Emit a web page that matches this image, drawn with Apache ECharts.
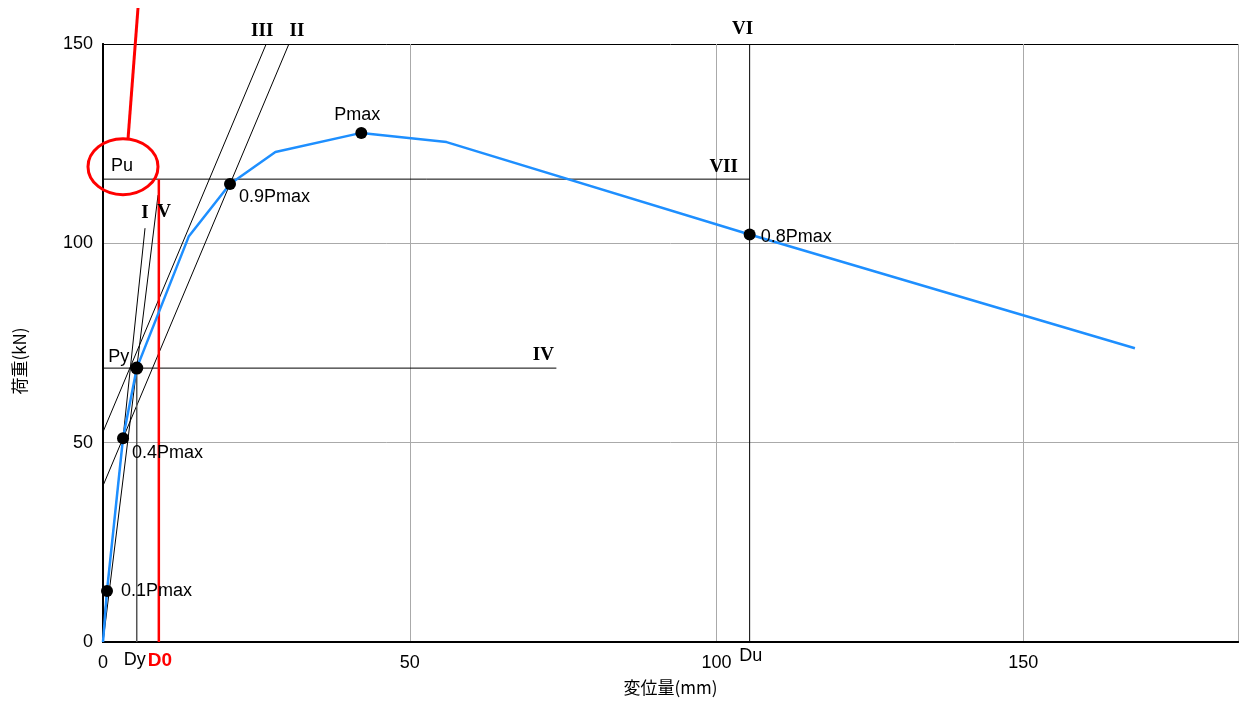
<!DOCTYPE html>
<html><head><meta charset="utf-8">
<script src="https://cdn.jsdelivr.net/npm/echarts@6/dist/echarts.min.js"></script>
<style>html,body{margin:0;padding:0;background:#fff}#c{width:1242px;height:705px}</style>
</head><body><div id="c"></div>
<script>
// Load-displacement curve (x: mm, y: kN)
const curveX = [0, 0.65, 3.26, 5.5, 14.0, 20.7, 28.1, 42.1, 56.0, 105.4, 168.2];
const curveY = [0, 12.8, 51.1, 68.7, 101.8, 114.9, 122.9, 127.7, 125.4, 102.2, 73.7];
// Characteristic points
const keyNames = ['0.1Pmax', '0.4Pmax', 'Py', '0.9Pmax', 'Pmax', '0.8Pmax'];
const keyX = [0.65, 3.26, 5.5, 20.7, 42.1, 105.4];
const keyY = [12.8, 51.1, 68.7, 114.9, 127.7, 102.2];
// Construction lines [x0,y0,x1,y1]
const lineI   = [0, 3.3, 6.85, 103.8];
const lineV   = [0, 0, 8.97, 112.1];
const lineII  = [0, 39.2, 30.3, 150];
const lineIII = [0, 52.7, 26.6, 150];
const lineIV  = [0, 68.7, 73.9, 68.7];
const lineVI  = [105.4, 0, 105.4, 150];
const lineVII = [0, 116.1, 105.4, 116.1];
const lineDy  = [5.5, 0, 5.5, 68.7];
const lineD0  = [9.1, 0, 9.1, 116.1];
const xTicks = [0, 50, 100, 150];
const yTicks = [0, 50, 100, 150];

const chart = echarts.init(document.getElementById('c'));
const FONT = '"Liberation Sans", "Noto Sans CJK JP", sans-serif';
const SERIF = '"Liberation Serif", "DejaVu Serif", serif';

function seg(name, L, color, width, startLabel, endLabel) {
  return {
    name: name, type: 'line', symbol: 'circle', symbolSize: 0.1, showSymbol: true,
    silent: true, clip: false, z: 3,
    itemStyle: {color: 'rgba(0,0,0,0)'},
    lineStyle: {color: color, width: width},
    data: [
      {value: [L[0], L[1]], label: startLabel || {show: false}},
      {value: [L[2], L[3]], label: endLabel || {show: false}}
    ]
  };
}
const roman = (t, dx, dy, pos) => ({show: true, formatter: t, position: pos || 'top',
  offset: [dx, dy], color: '#000', fontFamily: SERIF, fontSize: 19, fontWeight: 'bold'});

const keyLabelCfg = [
  {position: 'right', offset: [3, 0]},
  {position: 'right', offset: [-2, 15]},
  {position: 'left', offset: [4, -11]},
  {position: 'right', offset: [-2, 13]},
  {position: 'top', offset: [-4, 2]},
  {position: 'right', offset: [0, 2]}
];

const option = {
  animation: false,
  backgroundColor: '#fff',
  grid: {left: 103, right: 4, top: 44, bottom: 63},
  xAxis: [{
    type: 'value', min: 0, max: 185, interval: 50,
    name: '変位量(mm)', nameLocation: 'middle', nameGap: 37,
    nameTextStyle: {fontFamily: '"Noto Sans CJK JP", sans-serif', fontSize: 17, color: '#000'},
    axisLine: {show: true, onZero: false, lineStyle: {color: '#000', width: 2}},
    axisTick: {show: false},
    axisLabel: {fontFamily: FONT, fontSize: 18, color: '#000', margin: 12,
      formatter: v => xTicks.includes(v) ? String(v) : ''},
    splitLine: {show: true, lineStyle: {color: '#aaaaaa', width: 1}}
  }, {
    type: 'value', min: 0, max: 185, position: 'top',
    axisLine: {show: true, lineStyle: {color: '#000', width: 2}},
    axisTick: {show: false}, axisLabel: {show: false}, splitLine: {show: false}
  }],
  yAxis: [{
    type: 'value', min: 0, max: 150, interval: 50,
    name: '荷重(kN)', nameLocation: 'middle', nameGap: 75, nameRotate: 90,
    nameTextStyle: {fontFamily: '"Noto Sans CJK JP", sans-serif', fontSize: 17, color: '#000',
      padding: [0, 36, 0, 0]},
    axisLine: {show: true, onZero: false, lineStyle: {color: '#000', width: 2}},
    axisTick: {show: false},
    axisLabel: {fontFamily: FONT, fontSize: 18, color: '#000', margin: 10,
      formatter: v => yTicks.includes(v) ? String(v) : ''},
    splitLine: {show: true, lineStyle: {color: ['#aaaaaa', '#aaaaaa', '#aaaaaa', '#000'], width: 1}}
  }, {
    type: 'value', min: 0, max: 150, position: 'right',
    axisLine: {show: true, lineStyle: {color: '#000', width: 2}},
    axisTick: {show: false}, axisLabel: {show: false}, splitLine: {show: false}
  }],
  series: [
    seg('I', lineI, '#000', 1, null, roman('I', 0, -1)),
    seg('V', lineV, '#000', 1, null, roman('V', 6, 32)),
    seg('II', lineII, '#000', 1, null, roman('II', 8, 2)),
    seg('III', lineIII, '#000', 1, null, roman('III', -4, 2)),
    seg('IV', lineIV, '#000', 1, null, roman('IV', -13, 2)),
    seg('VI', lineVI, '#000', 1,
      {show: true, formatter: 'Du', position: 'bottom', offset: [1, 0], color: '#000', fontFamily: FONT, fontSize: 18},
      roman('VI', -7, 0)),
    seg('VII', lineVII, '#000', 1,
      {show: true, formatter: 'Pu', position: 'right', distance: 8, offset: [0, -13], color: '#000', fontFamily: FONT, fontSize: 18},
      roman('VII', -26, 2)),
    seg('Dy', lineDy, '#555', 1.5,
      {show: true, formatter: 'Dy', position: 'bottom', offset: [-2, 4], color: '#000', fontFamily: FONT, fontSize: 18}, null),
    seg('D0', lineD0, '#ff0000', 2.5,
      {show: true, formatter: 'D0', position: 'bottom', offset: [1, 4], color: '#ff0000', fontFamily: FONT, fontSize: 19, fontWeight: 'bold'}, null),
    {
      name: 'curve', type: 'line', symbol: 'none', z: 4,
      lineStyle: {color: '#1e8fff', width: 2.5},
      data: curveX.map((x, i) => [x, curveY[i]])
    },
    {
      name: 'points', type: 'scatter', symbol: 'circle', symbolSize: 12, z: 5,
      itemStyle: {color: '#000', opacity: 1},
      data: keyX.map((x, i) => ({
        value: [x, keyY[i]],
        symbolSize: i === 2 ? 13 : 12,
        label: Object.assign({show: true, formatter: keyNames[i], color: '#000',
          fontFamily: FONT, fontSize: 18}, keyLabelCfg[i])
      }))
    }
  ]
};
chart.setOption(option);

// red annotation around the Pu label
const PU = lineVII[1];
const p = chart.convertToPixel({gridIndex: 0}, [0, PU]);
chart.setOption({
  graphic: [
    {type: 'ellipse', shape: {cx: p[0] + 20, cy: p[1] - 12.5, rx: 35, ry: 28},
      style: {fill: 'none', stroke: '#ff0000', lineWidth: 3}, z: 10},
    {type: 'line', shape: {x1: p[0] + 25, y1: p[1] - 40, x2: p[0] + 35, y2: 8},
      style: {stroke: '#ff0000', lineWidth: 3}, z: 10}
  ]
});
</script></body></html>
